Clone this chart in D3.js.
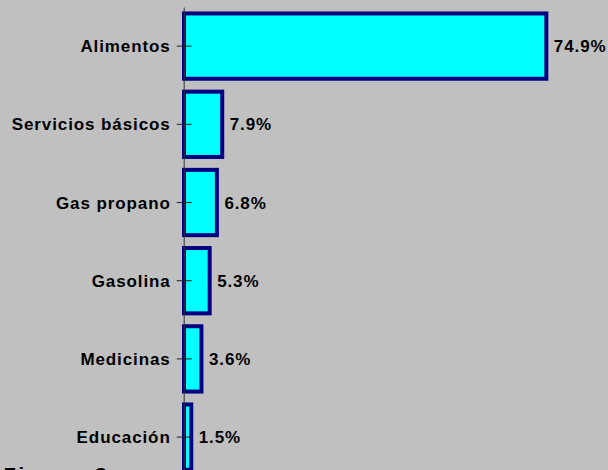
<!DOCTYPE html>
<html>
<head>
<meta charset="utf-8">
<script src="https://cdn.jsdelivr.net/npm/d3@7"></script>
<style>
  html, body { margin: 0; padding: 0; background: #c0c0c0; }
  svg { display: block; }
</style>
</head>
<body>
<script>
const categories = ["Alimentos", "Servicios básicos", "Gas propano", "Gasolina", "Medicinas", "Educación"];
const values = [74.9, 7.9, 6.8, 5.3, 3.6, 1.5];
const valueLabels = ["74.9%", "7.9%", "6.8%", "5.3%", "3.6%", "1.5%"];
const captionText = "Figura  8";

const W = 608, H = 470;
const svg = d3.select("body").append("svg").attr("width", W).attr("height", H);
svg.append("rect").attr("width", W).attr("height", H).attr("fill", "#c0c0c0");

const x = d3.scaleLinear().domain([0, 80]).range([184, 571]);
const y = d3.scaleBand().domain(categories).range([7, 476.2]).paddingInner(0.165).paddingOuter(0.0825);

const font = "'Liberation Sans', Arial, sans-serif";

// bars
svg.append("g").selectAll("rect").data(categories).join("rect")
  .attr("x", x(0))
  .attr("y", d => y(d))
  .attr("width", (d, i) => x(values[i]) - x(0))
  .attr("height", y.bandwidth())
  .attr("fill", "#00ffff")
  .attr("stroke", "#000080")
  .attr("stroke-width", 4);

// axis
const axis = d3.axisLeft(y).tickSizeInner(7).tickSizeOuter(0).tickPadding(7);
const gAxis = svg.append("g").attr("transform", `translate(${x(0) - 0.3},0)`).call(axis);
gAxis.select(".domain").attr("stroke", "#333").attr("stroke-width", 1);
gAxis.selectAll(".tick line").attr("stroke", "#222").attr("x2", 8).attr("x1", -7);
gAxis.selectAll(".tick text")
  .attr("x", -13)
  .attr("dy", "0.36em")
  .attr("fill", "#000")
  .style("font-family", font)
  .style("font-weight", "bold")
  .style("font-size", "17px")
  .style("letter-spacing", "0.9px");

// value labels
svg.append("g").selectAll("text").data(categories).join("text")
  .attr("x", (d, i) => x(values[i]) + 7.5)
  .attr("y", d => y(d) + y.bandwidth() / 2)
  .attr("dy", "0.36em")
  .attr("fill", "#000")
  .style("font-family", font)
  .style("font-weight", "bold")
  .style("font-size", "17px")
  .style("letter-spacing", "0.9px")
  .text((d, i) => valueLabels[i]);

// caption (cut off at bottom, as in the reference)
svg.append("text")
  .attr("x", 2)
  .attr("y", 482)
  .attr("xml:space", "preserve")
  .style("white-space", "pre")
  .attr("fill", "#000")
  .style("font-family", font)
  .style("font-weight", "bold")
  .style("font-style", "italic")
  .style("font-size", "21px")
  .style("letter-spacing", "2px")
  .text(captionText);
</script>
</body>
</html>
